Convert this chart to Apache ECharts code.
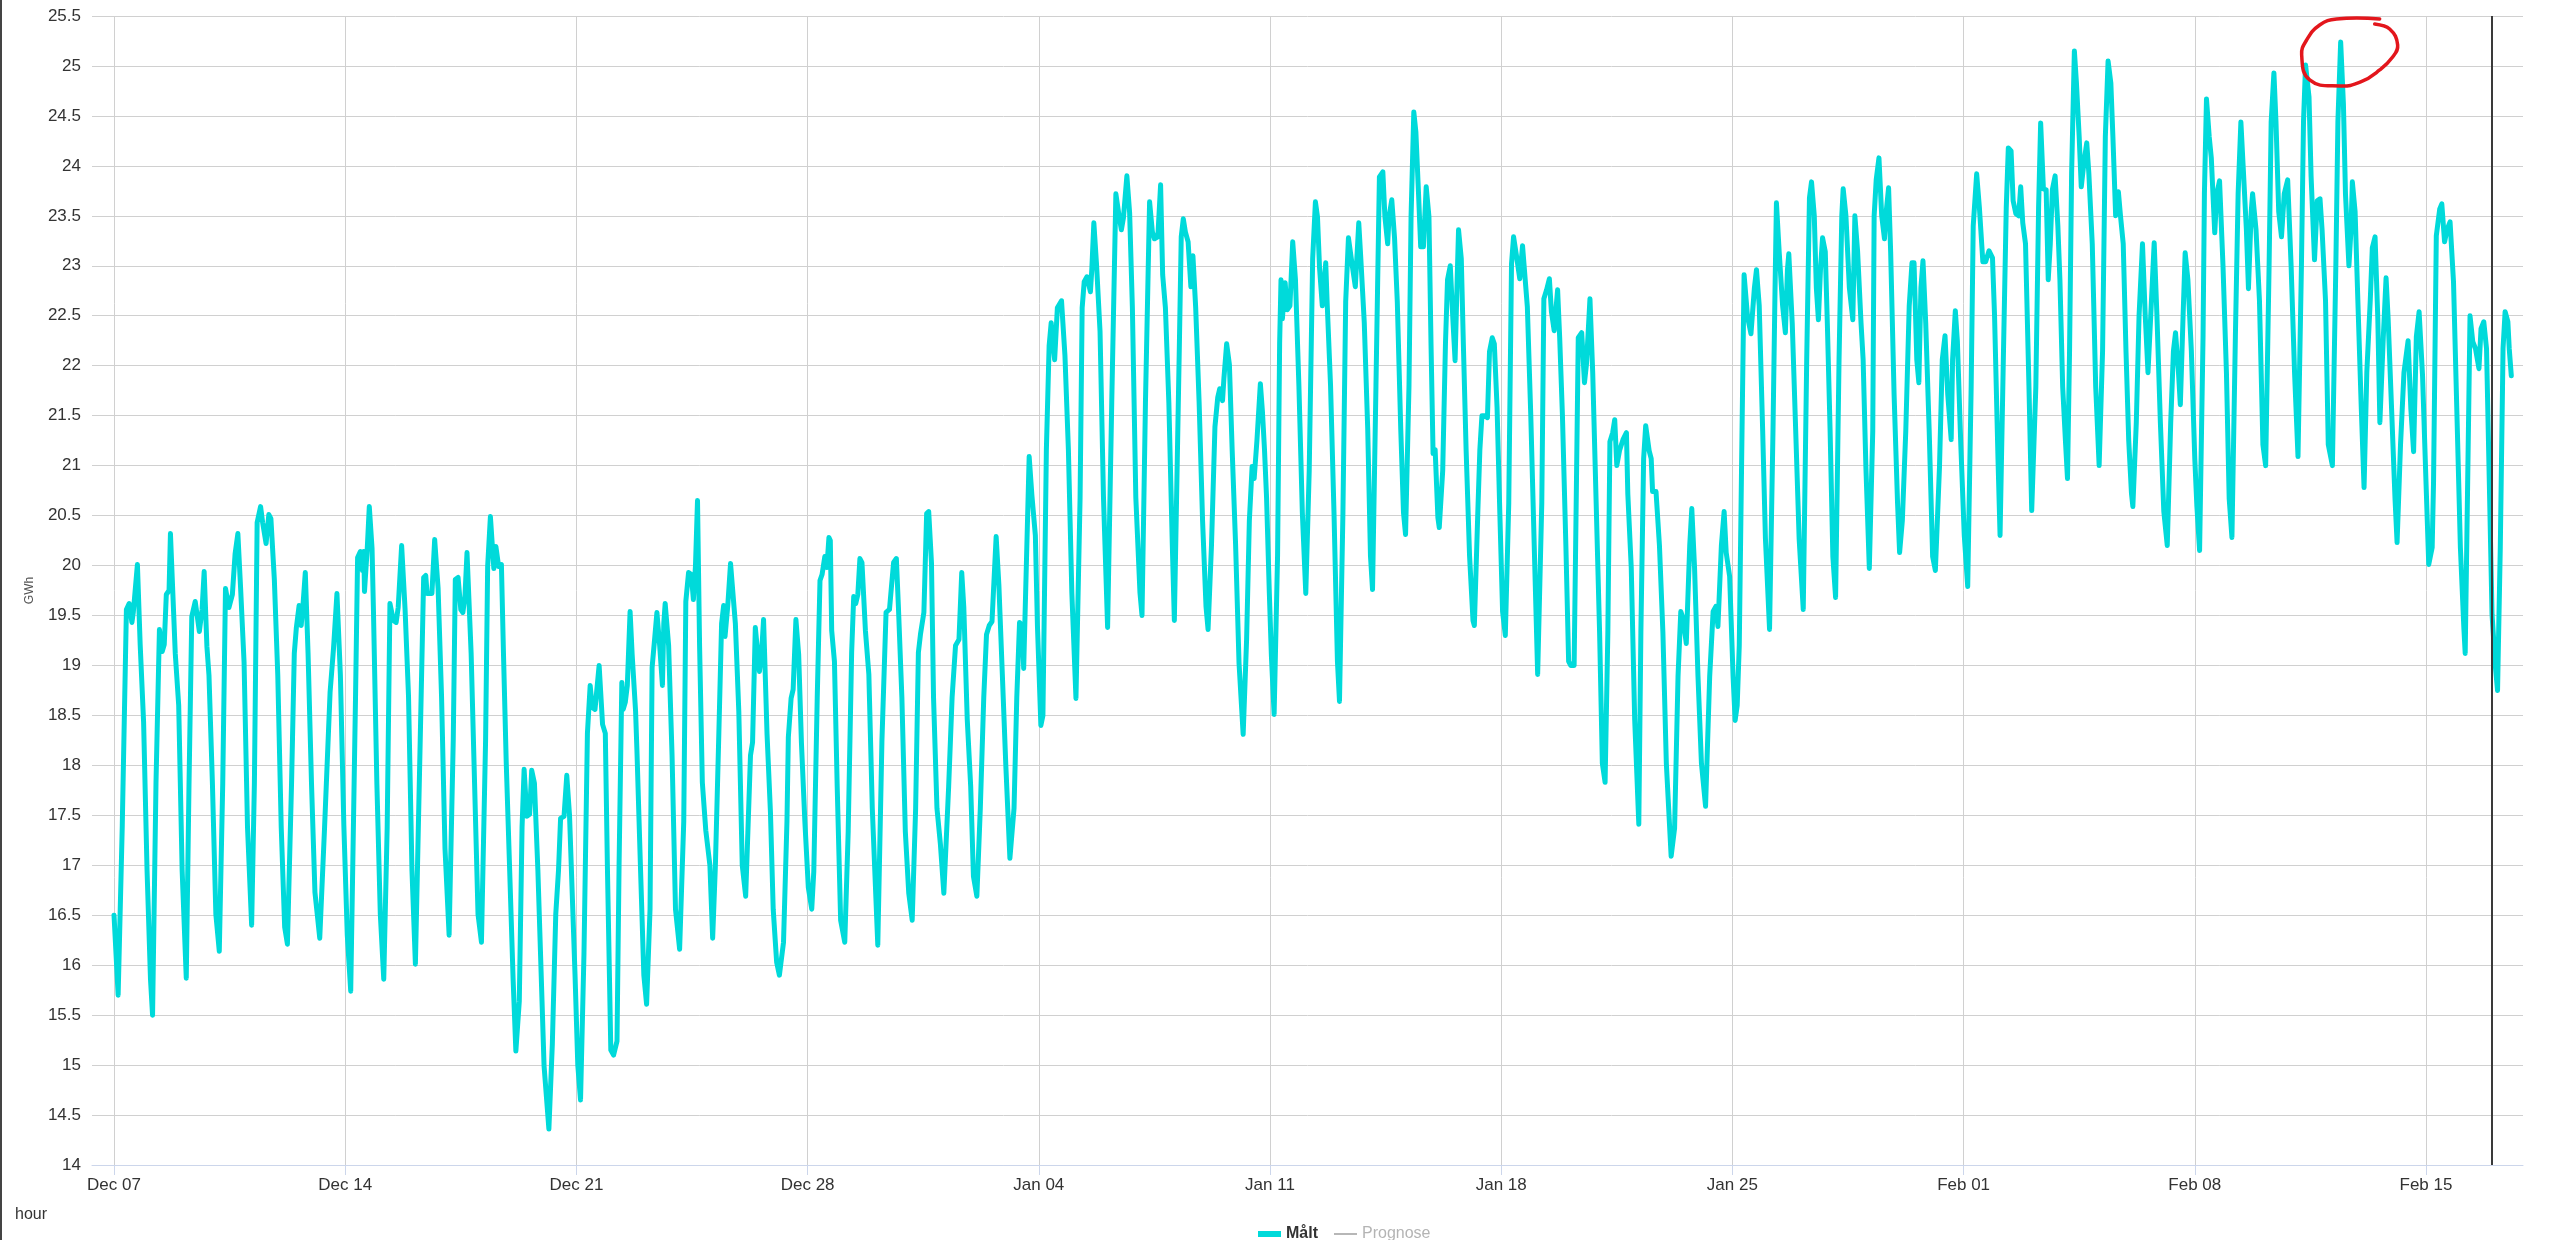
<!DOCTYPE html>
<html>
<head>
<meta charset="utf-8">
<script src="https://cdn.jsdelivr.net/npm/echarts@6/dist/echarts.min.js"></script>
<style>
html,body{margin:0;padding:0;background:#ffffff;}
#chart{width:2552px;height:1240px;}
</style>
</head>
<body>
<div id="chart"></div>
<script>
// ---- Data ----
// x-axis tick labels: one per week, starting Monday Dec 07 (2020)
const tickLabels = ['Dec 07','Dec 14','Dec 21','Dec 28','Jan 04','Jan 11','Jan 18','Jan 25','Feb 01','Feb 08','Feb 15'];
const hoursPerWeek = 168;

// Målt (measured), GWh. Each week: [hour since week start, value]
const maltWeek1 = [[0,16.5],[3,15.7],[6,17.4],[9,19.56],[11,19.62],[13,19.43],[14,19.53],[17,20.01],[19,19.21],[21.5,18.43],[24,16.95],[26.5,15.86],[28,15.5],
[30.5,17.82],[33,19.36],[35,19.14],[36.5,19.21],[38,19.71],[40,19.75],[41,20.32],[44.5,19.12],[47,18.6],[49.5,16.95],[52.5,15.87],
[54.5,17.82],[56.5,19.49],[59,19.64],[62,19.34],[64,19.56],[65.5,19.94],[67.5,19.19],[69,18.9],[71.5,17.82],[74,16.51],[76.5,16.14],
[79,17.82],[81,19.77],[83.5,19.58],[86,19.71],[88,20.12],[90,20.32],[92,19.77],[94.5,19.03],[97,17.38],[100,16.4],
[102,17.82],[104,20.43],[106.5,20.59],[108,20.43],[110.5,20.22],[112.5,20.51],[114,20.47],[116.5,19.86],[119,18.9],[121.5,17.38],[124,16.38],[126,16.21],
[129,17.82],[131,19.12],[132.5,19.38],[134.5,19.6],[136,19.4],[137.5,19.64],[139,19.93],[141,19.12],[143.5,17.82],[146,16.73],[149.5,16.27],
[153,17.38],[157,18.73],[159.5,19.17],[162,19.72],[164.5,18.9],[167,17.4]];

const maltWeek2 = [[1.5,16.3],[4,15.74],[7.5,18.69],[9,20.08],[11,20.14],[12.5,19.95],[13.5,20.14],[14,19.74],[16,20.17],[17.5,20.59],[19.5,20.17],[20.5,19.56],[23,17.82],[25.5,16.51],[28,15.86],
[30.5,17.38],[32.5,19.62],[35,19.45],[37,19.43],[38.5,19.58],[41,20.2],[43.5,19.56],[46,18.69],[48.5,16.95],[51,16.01],
[54.5,18.25],[57,19.88],[58.5,19.9],[59.5,19.72],[63,19.72],[65,20.26],[67.5,19.77],[70,18.69],[72.5,17.17],[75.5,16.3],
[78.5,18.25],[80,19.86],[82,19.88],[84,19.56],[85.5,19.53],[87,19.69],[88.5,20.13],[91.5,19.12],[94,17.82],[96.5,16.51],[99,16.23],
[102,18.25],[103.5,19.99],[105.5,20.49],[108,19.97],[109.5,20.19],[111.5,19.99],[113.5,20.01],[115,19.12],[117,18.03],[119.5,16.95],[122,15.86],[124,15.14],
[126.5,15.64],[128.5,17.38],[130,17.96],[132,17.49],[134,17.51],[135.5,17.95],[137.5,17.82],[140,16.95],[142,16.08],[144.5,14.99],[148,14.36],
[150.5,15.21],[153,16.51],[155,16.95],[156.5,17.47],[159,17.49],[161,17.9],[163,17.5],[165,16.7],[167,15.9]];

const maltWeek3 = [[1,15.0],[3,14.65],[5.5,16.12],[8,18.32],[10,18.8],[11.5,18.58],[13.5,18.56],[16.5,19.0],[19,18.41],[21,18.32],[22.5,17.0],[25,15.15],[27,15.1],[29.5,15.24],
[31,17.0],[33,18.83],[34,18.56],[35.5,18.63],[37,18.8],[39,19.54],[40.5,19.11],[43,18.54],[44,18.14],[46.5,17.0],[49,15.9],[51,15.61],
[53.5,16.56],[55,18.98],[57,19.29],[58.5,19.53],[60.5,19.2],[62.5,18.8],[63.5,19.42],[64.5,19.62],[67,19.2],[69.5,18.1],[72,16.56],[75,16.16],
[78,17.44],[79.5,19.64],[81.5,19.93],[83.5,19.91],[85,19.66],[86.5,19.99],[88,20.65],[89.5,19.2],[91.5,17.83],[94,17.35],[97,17.0],[99,16.27],
[101,17.0],[103.5,18.32],[105.5,19.42],[107,19.6],[108,19.29],[110,19.6],[112,20.02],[115.5,19.42],[118,18.54],[120.5,17.0],[123,16.69],
[126.5,18.1],[128,18.23],[130,19.38],[131,19.4],[133,18.94],[134.5,19.11],[136,19.46],[138.5,18.32],[141,17.53],[143,16.56],[145.5,16.03],[147.5,15.9],
[150.5,16.23],[153,17.44],[154,18.28],[156,18.67],[157.5,18.76],[159.5,19.46],[161.5,19.11],[163.5,18.23],[166,17.44]];

const maltWeek4 = [[0.5,16.78],[3,16.56],[4.5,16.94],[7,18.68],[9,19.85],[10.5,19.91],[12.5,20.09],[14,19.98],[15.5,20.28],[16.5,20.25],[17.5,19.35],[19.5,19.04],[21.5,17.79],[24,16.45],[27,16.23],
[29.5,17.34],[32,19.13],[33.5,19.69],[35,19.62],[36.5,19.71],[38,20.07],[39.5,20.03],[42,19.35],[44.5,18.91],[47,17.57],[51,16.2],
[54,18.24],[57,19.53],[59.5,19.56],[61,19.8],[62.5,20.03],[64.5,20.07],[66,19.58],[68.5,18.68],[71,17.34],[73.5,16.72],[76,16.45],
[78.5,17.57],[80.5,19.13],[82,19.31],[84.5,19.53],[86.5,20.52],[88,20.54],[90,20.03],[91.5,18.68],[94,17.57],[96.5,17.21],[99,16.72],
[102.5,17.79],[105,18.68],[107.5,19.2],[110,19.26],[112,19.93],[113.5,19.58],[116,18.46],[118.5,17.79],[120.5,16.89],[123,16.69],
[125.5,17.57],[128,18.68],[130,19.31],[132,19.4],[134,19.44],[137,20.29],[139,19.8],[141.5,18.91],[144,18.01],[147,17.07],
[150,17.57],[152,18.68],[154,19.43],[156,19.4],[157,18.97],[159,20.03],[161,21.09],[163,20.7],[165.5,20.3],[167,19.4]];

const maltWeek5 = [[1.5,18.4],[3,18.5],[5.5,21.16],[7.5,22.2],[9,22.43],[10.5,22.2],[11.5,22.06],[13.5,22.58],[16.5,22.65],[19,22.1],[21.5,21.16],[24,19.73],[27,18.67],
[30,20.68],[31.5,22.58],[33,22.84],[35,22.89],[37.5,22.74],[38.5,22.96],[40,23.43],[42,23.0],[44.5,22.34],[47,20.68],[50,19.38],
[53,21.63],[56,23.72],[58,23.53],[60,23.36],[61.5,23.48],[64,23.9],[66,23.53],[68,22.58],[70.5,20.68],[73.5,19.73],[75,19.5],
[77.5,21.63],[80.5,23.64],[82.5,23.34],[84,23.27],[86.5,23.29],[88.5,23.81],[90,22.91],[92,22.58],[94.5,21.63],[97,20.21],[98.5,19.45],
[102,22.1],[103.5,23.29],[105,23.47],[106.5,23.34],[108.5,23.24],[110.5,22.79],[112,23.1],[114,22.58],[116.5,21.63],[119,20.45],[121.5,19.59],[123,19.36],
[125.5,20.21],[128,21.39],[130,21.68],[131.5,21.77],[133.5,21.65],[134.5,21.87],[136.5,22.22],[138.5,22.01],[140.5,21.16],[143,20.21],[145.5,19.02],[148.5,18.31],
[151,19.26],[153,20.45],[155,20.99],[156.5,20.87],[158.5,21.25],[161,21.82],[162.5,21.54],[164,21.16],[165.5,20.68],[167.5,19.73]];

const maltWeek6 = [[1,19.1],[3,18.51],[5.5,20.1],[7,22.22],[8,22.86],[9,22.47],[11,22.83],[12.5,22.56],[14.5,22.6],[16.5,23.24],[18.5,22.86],[21,21.8],[23.5,20.53],[26,19.72],
[28.5,20.95],[31,23.07],[33,23.64],[34.5,23.49],[36,22.98],[38,22.6],[40.5,23.03],[41.5,22.64],[44,21.8],[46.5,20.53],[49,19.04],[50.5,18.64],
[53,20.53],[55,22.64],[57,23.28],[60,22.98],[62,22.79],[64.5,23.43],[66,23.07],[68.5,22.43],[71,21.37],[73,20.1],[74.5,19.76],
[77,21.8],[79.5,23.89],[82,23.94],[83.5,23.49],[85.5,23.22],[86.5,23.49],[88.5,23.66],[90.5,23.28],[92.5,22.64],[95,21.37],[97,20.53],[98.5,20.31],
[101,21.8],[102.5,23.49],[104.5,24.54],[106,24.34],[108,23.7],[109.5,23.19],[111.5,23.19],[113.5,23.79],[115.5,23.49],[117,22.22],[118.5,21.12],[120,21.16],[122,20.48],[123,20.38],
[125.5,20.95],[127.5,22.22],[129,22.86],[131,23.0],[133,22.43],[134.5,22.05],[136,22.86],[137,23.36],[139,23.07],[140.5,22.22],[142.5,21.16],[145,20.1],[147.5,19.45],[148.5,19.4],
[151,20.53],[152.5,21.16],[154,21.5],[156,21.5],[158,21.48],[159.5,22.14],[161.5,22.28],[163,22.22],[165,21.58],[167,20.53]];

const maltWeek7 = [[1,19.54],[3,19.3],[5.5,20.63],[7.5,23.02],[9,23.29],[11,23.11],[13.5,22.87],[15.5,23.2],[16.5,23.22],[19,22.59],[21.5,21.5],[24,20.2],[26.5,18.91],
[29.5,20.63],[31,22.67],[33,22.76],[35,22.87],[36.5,22.54],[38.5,22.35],[41,22.76],[42.5,22.28],[44.5,21.5],[47,20.2],[49,19.04],[50.5,19.0],[53,19.0],
[54.5,20.63],[56,22.28],[58.5,22.33],[60.5,21.83],[62,22.02],[64.5,22.67],[66.5,21.93],[69,20.63],[71.5,19.33],[73.5,18.02],[75.5,17.83],
[77.5,19.33],[79,21.24],[81,21.33],[82.5,21.46],[84,21.0],[86,21.15],[88.5,21.26],[91,21.33],[92,20.72],[94.5,19.98],[97,18.46],[100,17.41],
[101.5,19.33],[103.5,21.07],[105,21.4],[107.5,21.15],[109,21.07],[110,20.74],[112.5,20.74],[115,20.2],[117.5,19.33],[120,18.02],[123.5,17.09],
[126,17.37],[128.5,18.89],[130.5,19.54],[132,19.48],[134.5,19.22],[137,20.2],[138.5,20.57],[140.5,19.98],[143,18.89],[145.5,18.02],[148.5,17.59],
[151.5,18.89],[154,19.54],[156,19.59],[157.5,19.39],[160,20.2],[162,20.54],[163.5,20.13],[166,19.89]];

const maltWeek8 = [[0.5,18.89],[2,18.45],[3.5,18.6],[5,19.2],[7,21.35],[8.5,22.91],[11,22.49],[13.5,22.32],[16,22.78],[17.5,22.96],[19.5,22.6],[22,21.35],[24,20.27],[27,19.36],
[29.5,21.35],[31,22.78],[32,23.63],[34,23.14],[36.5,22.6],[38.5,22.33],[40,22.96],[41,23.12],[43.5,22.42],[46,21.35],[48.5,20.27],[51.5,19.56],
[54,22.06],[56,23.68],[57.5,23.84],[59.5,23.5],[61,22.78],[62.5,22.46],[64,22.96],[65.5,23.28],[67.5,23.14],[69,22.42],[71,21.35],[73,20.09],[75,19.68],
[77.5,22.06],[79.5,23.5],[80.5,23.77],[82.5,23.5],[85,22.78],[87.5,22.46],[89,23.5],[91,23.14],[93.5,22.42],[95,22.06],[97,20.99],[99.5,19.97],
[102,21.35],[103,23.5],[104.5,23.86],[106.5,24.08],[108.5,23.5],[110.5,23.27],[111.5,23.5],[113.5,23.78],[115,23.14],[117.5,21.71],[120,20.63],[121.5,20.13],[123.5,20.45],
[126,21.35],[128.5,22.6],[130.5,23.03],[132,23.03],[134,22.06],[135.5,21.83],[137,22.78],[138.5,23.05],[140.5,22.42],[143,21.35],[145.5,20.09],[147.5,19.95],
[150.5,20.99],[152.5,22.06],[154.5,22.3],[156.5,21.71],[159,21.26],[160,22.06],[162,22.55],[163.5,22.24],[166,21.2]];

const maltWeek9 = [[0.5,20.3],[3,19.79],[5.5,21.79],[7,23.4],[9.5,23.92],[11.5,23.58],[14,23.04],[16,23.04],[18.5,23.15],[21,23.08],[22.5,22.5],[25,21.07],[26.5,20.3],
[29,22.15],[31,23.58],[32.5,24.18],[34.5,24.15],[36,23.65],[38,23.52],[40,23.5],[41.5,23.79],[43,23.43],[45,23.22],[47.5,21.79],[49.5,20.55],
[52.5,21.79],[54.5,23.58],[56,24.43],[58,23.77],[60,23.76],[61.5,22.86],[63,23.22],[64.5,23.76],[66.5,23.9],[68.5,23.4],[70,22.86],[72,21.79],[74,21.25],[75.5,20.87],
[77,22.15],[78.5,23.93],[80.5,25.15],[82,24.83],[84,24.29],[85.5,23.79],[87.5,24.04],[89.5,24.23],[91,23.93],[93.5,23.22],[96,21.79],[98.5,21.0],
[101,22.15],[103,24.29],[105,25.05],[107,24.83],[108.5,24.29],[110.5,23.5],[112.5,23.74],[114,23.5],[116,23.22],[118,22.15],[120,21.25],[122,20.72],[123,20.59],
[125.5,21.43],[127.5,22.5],[130,23.22],[132,22.5],[134,21.93],[136,22.5],[138.5,23.23],[140.5,22.5],[143,21.43],[145.5,20.54],[148,20.2],
[150.5,21.43],[152.5,22.15],[154,22.33],[156,21.97],[157.5,21.61],[159.5,22.5],[161,23.13],[163,22.86],[165.5,22.15],[168,21.07]];

const maltWeek10 = [[1.5,20.6],[3.5,20.15],[6,22.29],[7,23.72],[8.5,24.67],[10.5,24.29],[12,24.08],[14.5,23.33],[16,23.72],[18,23.85],[20.5,23.0],[23,21.93],[25,20.67],[27,20.28],
[29.5,22.29],[31.5,23.72],[33.5,24.44],[35.5,23.9],[37.5,23.36],[39,22.77],[41,23.54],[42,23.72],[44.5,23.36],[47,22.65],[49.5,21.21],[51.5,21.0],
[54,23.0],[55.5,24.44],[57.5,24.93],[59,24.44],[61,23.54],[63,23.29],[65,23.72],[67.5,23.86],[70,23.0],[72.5,21.93],[75,21.09],
[77.5,23.0],[79,24.44],[80.5,25.01],[83,24.69],[84.5,23.9],[87,23.06],[89,23.65],[91,23.67],[92.5,23.36],[95,22.65],[97,21.21],[100,21.0],
[102.5,23.0],[104,24.44],[106,25.24],[108,24.62],[109.5,23.72],[112,23.0],[113.5,23.36],[114.5,23.84],[116.5,23.54],[118.5,22.65],[121,21.57],[123,20.78],
[125,21.93],[127.5,22.65],[129,23.18],[131,23.29],[133,22.47],[134.5,21.43],[137,22.29],[139,22.88],[140.5,22.47],[143,21.57],[145.5,20.67],[147,20.23],
[149.5,21.21],[152,21.93],[155,22.25],[157,21.57],[159,21.14],[161,22.29],[163,22.54],[165.5,21.9]];

const maltWeek11 = [[0,20.84],[2,20.01],[4.5,20.18],[5.5,20.84],[7.5,23.3],[10,23.57],[11.5,23.62],[13.5,23.24],[15.5,23.37],[17.5,23.44],[20,22.84],[22.5,21.51],[25,20.18],[27.5,19.38],[28.5,19.12],
[31,21.51],[32,22.5],[34,22.24],[36,22.17],[38.5,21.97],[40,22.37],[42,22.44],[44,22.17],[45.5,21.18],[48,19.51],[50.5,18.98],[52,18.75],
[54,20.18],[56,22.17],[57.5,22.54],[59.5,22.44],[60.5,22.17],[62,21.9]];

// Prognose (forecast) series is switched off in the legend, no visible values
const prognoseValues = [];

// "now" marker: Feb 17 00:00 = hour 1728 since Dec 07 00:00
const nowHour = 1728;

// ---- Build series data ----
const maltWeeks = [maltWeek1,maltWeek2,maltWeek3,maltWeek4,maltWeek5,maltWeek6,maltWeek7,maltWeek8,maltWeek9,maltWeek10,maltWeek11];
const maltData = [];
maltWeeks.forEach((wk, i) => wk.forEach(p => maltData.push([i * hoursPerWeek + p[0], p[1]])));
const tickPositions = tickLabels.map((_, i) => i * hoursPerWeek);

const FONT = '"Liberation Sans", Arial, sans-serif';
const CYAN = '#00dada';
const GRID = '#d0d0d0';

const chart = echarts.init(document.getElementById('chart'), null, {renderer: 'canvas'});
chart.setOption({
  animation: false,
  backgroundColor: '#ffffff',
  textStyle: {fontFamily: FONT},
  grid: {left: 92, right: 29, top: 16, bottom: 75, containLabel: false},
  legend: {
    left: 1253, top: 1221,
    itemWidth: 23, itemHeight: 6, itemGap: 16,
    selectedMode: true,
    inactiveColor: '#b4b4b4',
    textStyle: {fontSize: 16, color: '#333333', fontFamily: FONT},
    data: [
      {name: 'Målt', icon: 'rect', textStyle: {fontWeight: 'bold'}},
      {name: 'Prognose', icon: 'path://M0,0 L24,0 L24,2 L0,2 Z'}
    ],
    selected: {'Målt': true, 'Prognose': false}
  },
  xAxis: {
    type: 'value',
    min: -16, max: 1750.5,
    axisLine: {show: true, onZero: false, lineStyle: {color: '#ccd6eb', width: 1}},
    axisTick: {show: true, length: 10, customValues: tickPositions, lineStyle: {color: '#ccd6eb'}},
    axisLabel: {
      customValues: tickPositions,
      formatter: v => tickLabels[Math.round(v / hoursPerWeek)] || '',
      color: '#333333', fontSize: 17, margin: 12, fontFamily: FONT
    },
    splitLine: {show: true, lineStyle: {color: GRID, width: 1}}
  },
  yAxis: {
    type: 'value',
    min: 14, max: 25.5, interval: 0.5,
    name: 'GWh', nameLocation: 'middle', nameGap: 56, nameRotate: 90,
    nameTextStyle: {fontSize: 12, color: '#555555', fontFamily: FONT},
    axisLine: {show: false},
    axisTick: {show: false},
    axisLabel: {color: '#333333', fontSize: 17, margin: 11, fontFamily: FONT},
    splitLine: {show: true, lineStyle: {color: GRID, width: 1}}
  },
  series: [
    {
      name: 'Målt', type: 'line', data: maltData,
      showSymbol: false, smooth: false,
      lineStyle: {width: 5, color: CYAN, join: 'round', cap: 'round'},
      itemStyle: {color: CYAN},
      markLine: {
        silent: true, symbol: 'none', animation: false,
        label: {show: false},
        lineStyle: {color: '#3a3a3a', width: 2, type: 'solid'},
        data: [{xAxis: nowHour}]
      },
      z: 3
    },
    {
      name: 'Prognose', type: 'line', data: prognoseValues,
      showSymbol: false,
      lineStyle: {width: 2, color: '#888888'},
      itemStyle: {color: '#888888'}
    }
  ]
});

// Hand-drawn red annotation around the highest measured value, the x-axis unit text, window edge
let peak = maltData[0];
maltData.forEach(p => { if (p[1] > peak[1]) peak = p; });
const peakPx = chart.convertToPixel({gridIndex: 0}, peak);
chart.setOption({
  graphic: [
    {
      type: 'polyline', x: peakPx[0], y: peakPx[1], z: 100,
      shape: {
        points: [[39,-23],[-4,-23],[-21,-17],[-34,-2],[-39,13],[-31,38],[-1,44],[20,40],[39,28],[52,15],[57,3],[49,-13],[34,-18]],
        smooth: 0.45
      },
      style: {stroke: '#e3161c', lineWidth: 3.5, fill: null, lineCap: 'round', lineJoin: 'round'}
    },
    {
      type: 'text', left: 15, top: 1207, z: 100,
      style: {text: 'hour', fontSize: 16, fill: '#333333', fontFamily: FONT}
    },
    {
      type: 'rect', left: 0, top: 0, z: 100,
      shape: {width: 2, height: 1240},
      style: {fill: '#444444'}
    }
  ]
});
</script>
</body>
</html>
